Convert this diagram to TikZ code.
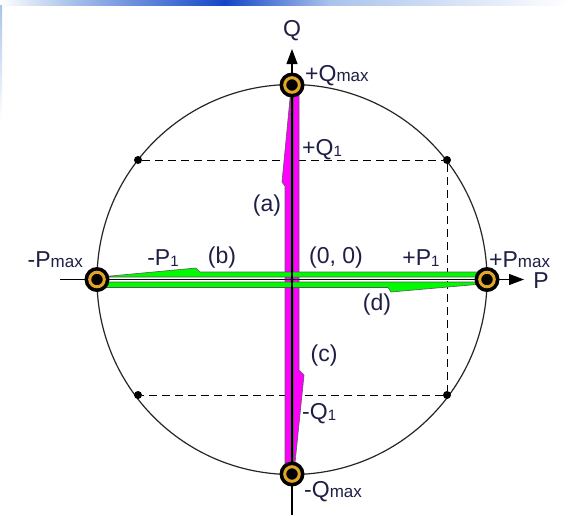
\documentclass[tikz,border=0pt]{standalone}
\usepackage{fontspec}
\setmainfont{Liberation Sans}
\usetikzlibrary{arrows.meta}
\definecolor{txt}{RGB}{30,30,70}
\definecolor{mag}{RGB}{255,0,255}
\definecolor{grn}{RGB}{0,250,0}
\definecolor{ringc}{RGB}{225,165,40}
\definecolor{bandA}{RGB}{170,195,235}
\definecolor{bandB}{RGB}{20,70,200}
\tikzset{
  lbl/.style={text=txt, font=\fontsize{23}{25}\selectfont, inner sep=0pt},
  ringnode/.style={circle, fill=black, minimum size=25pt, inner sep=0pt},
  dotnode/.style={circle, fill=black, minimum size=8pt, inner sep=0pt},
  strip/.style={draw=black!65, line width=0.6pt, line join=miter},
  dashline/.style={dashed, dash pattern=on 8pt off 5pt, line width=1pt},
  axis/.style={line width=1.2pt, -{Triangle[length=15pt,width=11pt]}},
}
\newcommand{\mx}{{\fontsize{17}{17}\selectfont max}}
\newcommand{\one}{\raisebox{-1pt}{\fontsize{15}{15}\selectfont 1}}
\begin{document}
\begin{tikzpicture}[x=1pt,y=-1pt]
\useasboundingbox (0,0) rectangle (569,515);
\fill[white] (0,0) rectangle (569,515);
% top band
\shade[left color=white, right color=bandA] (0,0) rectangle (70,5);
\shade[left color=bandA, right color=bandB] (70,0) rectangle (225,5);
\shade[left color=bandB, right color=bandA] (225,0) rectangle (330,5);
\shade[left color=bandA, right color=white] (330,0) rectangle (569,5);
\shade[top color=bandA, bottom color=white] (0,5) rectangle (2,120);

\coordinate (O) at (292,279.5);
% circle
\draw[line width=1.2pt, black!85] (O) circle (195);
% corner dots
\node[dotnode] (d1) at (138,160) {};
\node[dotnode] (d2) at (447,160) {};
\node[dotnode] (d3) at (138,395) {};
\node[dotnode] (d4) at (447,395) {};
\draw[dashline] (d1) -- (d2) -- (d4) -- (d3) -- cycle;

% magenta strips
\fill[mag] (285,470) -- (285,186) -- (282,182) -- (291,88) -- (291,470) -- cycle;
\draw[strip] (285,470) -- (285,186) -- (282,182) -- (291,88) -- (291,470) -- cycle;
\fill[mag] (293.5,88) -- (299,88) -- (299,370) -- (304,375) -- (294.5,468) -- (293.5,470) -- cycle;
\draw[strip] (293.5,88) -- (299,88) -- (299,370) -- (304,375) -- (294.5,468) -- (293.5,470) -- cycle;
% green strips
\fill[grn] (482,272) -- (200,272) -- (196,268) -- (100,277) -- (482,277) -- cycle;
\draw[strip] (482,272) -- (200,272) -- (196,268) -- (100,277) -- (482,277) -- cycle;
\fill[grn] (100,282) -- (482,282) -- (482,284) -- (391,292) -- (388,287.5) -- (100,287.5) -- cycle;
\draw[strip] (100,282) -- (482,282) -- (482,284) -- (391,292) -- (388,287.5) -- (100,287.5) -- cycle;

% axes
\coordinate (qbot) at (292,515);
\coordinate (qtop) at (292,49);
\coordinate (pleft) at (60,279.5);
\coordinate (pright) at (524,279.5);
\draw[axis] (qbot) -- (qtop);
\draw[axis] (pleft) -- (pright);

% rings
\node[ringnode] (qmax) at (292,85) {};
\node[ringnode] (qmin) at (292,474) {};
\node[ringnode] (pmin) at (97,279.5) {};
\node[ringnode] (pmax) at (487,279.5) {};
\foreach \r in {qmax,qmin,pmin,pmax}{
  \draw[ringc, line width=3pt] (\r.center) circle (7.3);
}

% labels
\node[lbl] (Ql) at (292,31) {Q};
\node[lbl] (Pl) at (541,281) {P};
\node[lbl, anchor=west] (lqmax) at (305,76) {+Q\mx};
\node[lbl, anchor=west] (lq1) at (302,150) {+Q\one};
\node[lbl] (la) at (267,206) {(a)};
\node[lbl, anchor=east] (lpmin) at (83,260) {-P\mx};
\node[lbl] (lp1m) at (163,258) {-P\one};
\node[lbl] (lb) at (222,258) {(b)};
\node[lbl] (l00) at (336,258) {(0, 0)};
\node[lbl] (lp1) at (421,258) {+P\one};
\node[lbl, anchor=west] (lpmax) at (489,260) {+P\mx};
\node[lbl] (ld) at (377,305) {(d)};
\node[lbl] (lc) at (324,356) {(c)};
\node[lbl, anchor=west] (lq1m) at (302,414) {-Q\one};
\node[lbl, anchor=west] (lqmin) at (304,492) {-Q\mx};
\end{tikzpicture}
\end{document}
